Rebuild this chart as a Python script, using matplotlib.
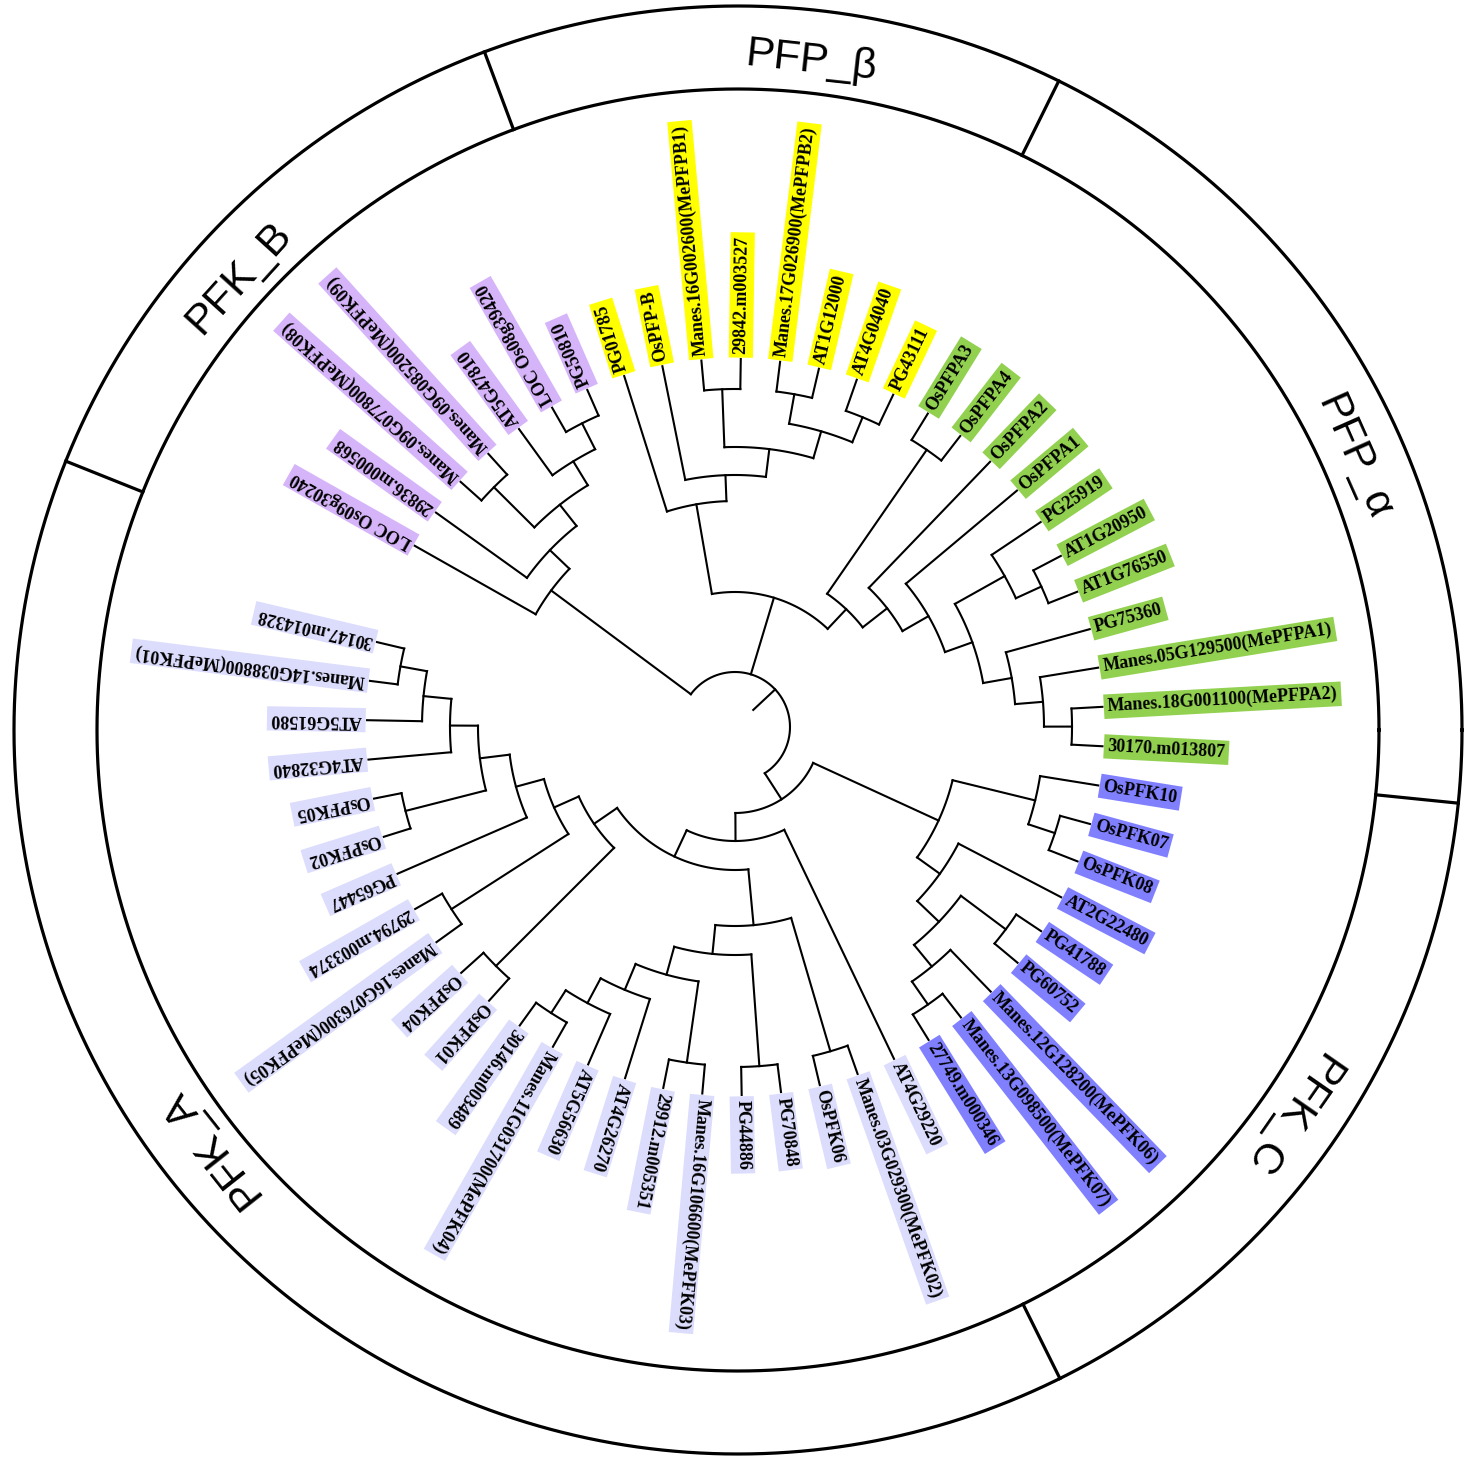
import numpy as np
import matplotlib.pyplot as plt

# ---------------- data ----------------
# clades in clockwise order, with their label colours
clade_keys = ['PFK_B', 'PFP_b', 'PFP_a', 'PFK_C', 'PFK_A']
clade_titles = ['PFK_B', 'PFP_β', 'PFP_α', 'PFK_C', 'PFK_A']
clade_colors = ['#d6b4f9', '#ffff00', '#92d050', '#8080ff', '#dcdcfd']

# topology, internal numbers = radius of the node (tips sit at 368)
pfk_b = ("('LOC Os09g30240',('29836.m000568',(('Manes.09G077800(MePFK08)',"
         "'Manes.09G085200(MePFK09)')340,('AT5G47810',('LOC Os08g39420',"
         "'PG50810')340)311)283)256)229")
pfp_b = ("('PG01785',('OsPFP-B',(('Manes.16G002600(MePFPB1)','29842.m003527')338,"
         "(('Manes.17G026900(MePFPB2)','AT1G12000')338,('AT4G04040','PG43111')335)308)"
         "280)252)226")
pfp_a = ("(('OsPFPA3','OsPFPA4')337,('OsPFPA2',('OsPFPA1',(('PG25919',"
         "('AT1G20950','AT1G76550')337)309,('PG75360',('Manes.05G129500(MePFPA1)',"
         "('Manes.18G001100(MePFPA2)','30170.m013807')337)309)281)252)223)193)162")
pfk_c = ("(('OsPFK10',('OsPFK07','OsPFK08')337)309,('AT2G22480',(('PG41788','PG60752')338,"
         "('Manes.12G128200(MePFK06)',('Manes.13G098500(MePFK07)','27749.m000346')338)310)"
         "282)252)224")
pfk_a = ("('AT4G29220',((('Manes.03G029300(MePFK02)','OsPFK06')338,(('PG70848','PG44886')340,"
         "(('Manes.16G106600(MePFK03)','29912.m005351')339,('AT4G26270',('AT5G56630',"
         "('Manes.11G031700(MePFK04)','30146.m003489')340)313)285)257)228)199,"
         "(('OsPFK01','OsPFK04')338,(('Manes.16G076300(MePFK05)','29794.m003374')337,"
         "('PG65447',(('OsPFK02','OsPFK05')340,('AT4G32840',('AT5G61580',"
         "('Manes.14G038800(MePFK01)','30147.m014328')340)313)285)257)227)198)171)143)114")
backbone = "({PFK_B},({PFP_b},{PFP_a})135,({PFK_C},{PFK_A})86)55"
clade_newick = {'PFK_B': pfk_b, 'PFP_b': pfp_b, 'PFP_a': pfp_a,
                'PFK_C': pfk_c, 'PFK_A': pfk_a}

# outer ring: separators and group titles (degrees, counter-clockwise from east)
sep_angles = [158.2, 110.5, 63.7, -5.8, -63.6]
title_angles = [137.8, 83.7, 23.9, -34.8, -141.7]

# ---------------- layout ----------------
W, H = 1473, 1458
cx, cy = 735, H - 727          # tree centre
rcx, rcy = 738, H - 730        # ring centre
tip_r, label_r, stub_r = 368, 373, 25
r_in, r_out, r_title = 641, 724, 673
start_ang, step = 150.5, 6.14

color_of = {}
for key, col in zip(clade_keys, clade_colors):
    for nm in clade_newick[key].split("'")[1::2]:
        color_of[nm] = col

full = backbone.format(**clade_newick)


def parse(s):
    pos = 0

    def node():
        nonlocal pos
        if s[pos] == '(':
            pos += 1
            kids = [node()]
            while s[pos] == ',':
                pos += 1
                kids.append(node())
            pos += 1
            j = pos
            while pos < len(s) and s[pos] not in ',)':
                pos += 1
            return {'r': float(s[j:pos]), 'kids': kids}
        pos += 1
        j = s.index("'", pos)
        name = s[pos:j]
        pos = j + 1
        return {'name': name, 'r': tip_r}
    return node()


tree = parse(full)
count = [0]


def place(n):
    if 'name' in n:
        n['a'] = start_ang - step * count[0]
        count[0] += 1
    else:
        for k in n['kids']:
            place(k)
        n['a'] = (n['kids'][0]['a'] + n['kids'][-1]['a']) / 2


place(tree)

fig = plt.figure(figsize=(W / 100, H / 100), dpi=100)
ax = fig.add_axes([0, 0, 1, 1])
ax.set_xlim(0, W)
ax.set_ylim(0, H)
ax.axis('off')

lw = 1.5


def pt(r, a, x0=cx, y0=cy):
    t = np.deg2rad(a)
    return x0 + r * np.cos(t), y0 + r * np.sin(t)


def draw(n):
    if 'name' in n:
        x, y = pt(label_r, n['a'])
        ax.text(x, y, n['name'], rotation=n['a'] % 360, rotation_mode='anchor',
                ha='left', va='center', fontsize=13, family='Liberation Serif',
                fontweight='bold', color='black',
                bbox=dict(boxstyle='square,pad=0.2', fc=color_of[n['name']], ec='none'))
        return
    a0, a1 = n['kids'][0]['a'], n['kids'][-1]['a']
    aa = np.linspace(a0, a1, 60)
    xs, ys = pt(n['r'], aa)
    ax.plot(xs, ys, color='black', lw=lw, solid_capstyle='projecting')
    for k in n['kids']:
        x0, y0 = pt(n['r'], k['a'])
        x1, y1 = pt(k['r'], k['a'])
        ax.plot([x0, x1], [y0, y1], color='black', lw=lw, solid_capstyle='projecting')
        draw(k)


draw(tree)
# root stub
x0, y0 = pt(tree['r'], tree['a'])
x1, y1 = pt(stub_r, tree['a'])
ax.plot([x0, x1], [y0, y1], color='black', lw=lw)

# ring
th = np.linspace(0, 2 * np.pi, 721)
for rr in (r_in, r_out):
    ax.plot(rcx + rr * np.cos(th), rcy + rr * np.sin(th), color='black', lw=2.3)
for a in sep_angles:
    xa, ya = pt(r_in, a, rcx, rcy)
    xb, yb = pt(r_out, a, rcx, rcy)
    ax.plot([xa, xb], [ya, yb], color='black', lw=2.3)
for title, a in zip(clade_titles, title_angles):
    x, y = pt(r_title, a, rcx, rcy)
    ax.text(x, y, title, rotation=(a - 90) % 360, rotation_mode='anchor',
            ha='center', va='center', fontsize=31,
            family=['Liberation Sans', 'DejaVu Sans'])

fig.savefig('out.png', dpi=100)
